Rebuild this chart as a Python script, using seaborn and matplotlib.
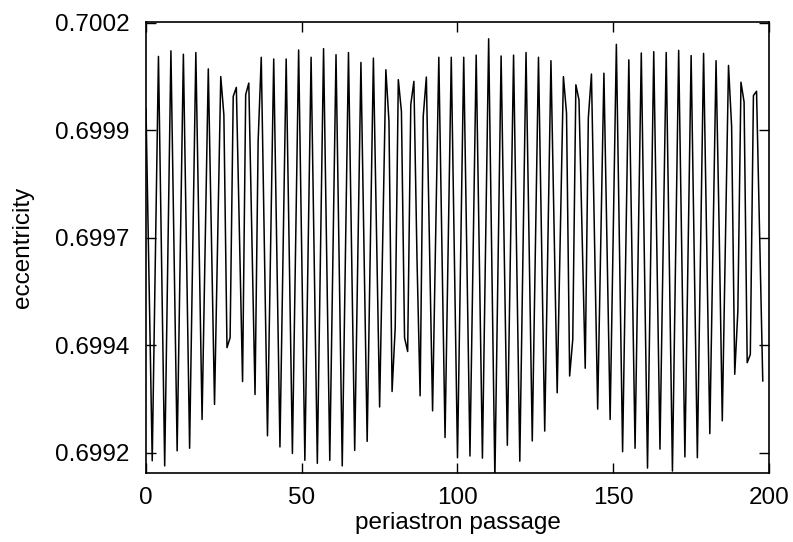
import numpy as np
import pandas as pd
import matplotlib
matplotlib.use("Agg")
import matplotlib.pyplot as plt
import seaborn as sns

# ---- data ----
ecc = [
    0.699950, 0.699540, 0.699132, 0.699602, 0.700072, 0.699596, 0.699120, 0.699603, 0.700085, 0.699620,
    0.699155, 0.699616, 0.700077, 0.699619, 0.699161, 0.699621, 0.700081, 0.699655, 0.699228, 0.699636,
    0.700043, 0.699653, 0.699263, 0.699644, 0.700025, 0.699936, 0.699395, 0.699418, 0.699979, 0.700000,
    0.699658, 0.699316, 0.699983, 0.700010, 0.699648, 0.699286, 0.699875, 0.700070, 0.699630, 0.699190,
    0.699628, 0.700066, 0.699615, 0.699164, 0.699615, 0.700066, 0.699608, 0.699149, 0.699618, 0.700087,
    0.699610, 0.699133, 0.699602, 0.700070, 0.699598, 0.699126, 0.699608, 0.700090, 0.699612, 0.699133,
    0.699605, 0.700076, 0.699598, 0.699120, 0.699600, 0.700081, 0.699619, 0.699156, 0.699607, 0.700058,
    0.699618, 0.699177, 0.699623, 0.700068, 0.699663, 0.699257, 0.699649, 0.700041, 0.699921, 0.699293,
    0.699441, 0.700018, 0.699944, 0.699418, 0.699386, 0.699960, 0.700014, 0.699600, 0.699283, 0.699933,
    0.700024, 0.699636, 0.699248, 0.699659, 0.700070, 0.699628, 0.699186, 0.699628, 0.700070, 0.699605,
    0.699139, 0.699605, 0.700070, 0.699607, 0.699143, 0.699609, 0.700075, 0.699607, 0.699138, 0.699626,
    0.700113, 0.699602, 0.699090, 0.699582, 0.700073, 0.699620, 0.699168, 0.699622, 0.700075, 0.699603,
    0.699131, 0.699606, 0.700081, 0.699630, 0.699178, 0.699624, 0.700070, 0.699636, 0.699201, 0.699632,
    0.700062, 0.699676, 0.699290, 0.699658, 0.700025, 0.699940, 0.699329, 0.699414, 0.700006, 0.699971,
    0.699659, 0.699347, 0.699929, 0.700031, 0.699642, 0.699252, 0.699643, 0.700033, 0.699630, 0.699228,
    0.699664, 0.700100, 0.699627, 0.699153, 0.699609, 0.700064, 0.699613, 0.699161, 0.699620, 0.700080,
    0.699598, 0.699115, 0.699600, 0.700083, 0.699621, 0.699159, 0.699620, 0.700081, 0.699595, 0.699108,
    0.699597, 0.700086, 0.699614, 0.699141, 0.699608, 0.700074, 0.699607, 0.699139, 0.699609, 0.700079,
    0.699637, 0.699195, 0.699629, 0.700062, 0.699670, 0.699225, 0.699638, 0.700051, 0.699909, 0.699333,
    0.699480, 0.700012, 0.699966, 0.699360, 0.699379, 0.699981, 0.699991, 0.699654, 0.699317,
]
passage = list(range(len(ecc)))

x_ticks = [0, 50, 100, 150, 200]
x_tick_labels = ["0", "50", "100", "150", "200"]
y_ticks = [0.69915, 0.69940, 0.69965, 0.69990, 0.70015]
y_tick_labels = ["0.6992", "0.6994", "0.6997", "0.6999", "0.7002"]
x_label = "periastron passage"
y_label = "eccentricity"

df = pd.DataFrame({"passage": passage, "eccentricity": ecc})

sns.set_theme(style="ticks")
plt.rcParams["font.family"] = ["Liberation Sans", "DejaVu Sans"]

fig = plt.figure(figsize=(7.93, 5.42), dpi=100)
ax = fig.add_axes([146 / 793, 1 - 473 / 542, (769 - 146) / 793, (473 - 22) / 542])

sns.lineplot(data=df, x="passage", y="eccentricity", ax=ax,
             color="black", linewidth=1.1, estimator=None, sort=False)

ax.set_xlim(0, 200)
ax.set_ylim(0.6991035, 0.700152)
ax.set_xticks(x_ticks)
ax.set_xticklabels(x_tick_labels)
ax.set_yticks(y_ticks)
ax.set_yticklabels(y_tick_labels)

ax.tick_params(axis="both", which="major", direction="in", length=7, width=1.0,
               top=True, right=True, labelsize=17.5, colors="black")
ax.tick_params(axis="x", pad=10)
ax.tick_params(axis="y", pad=12)
for s in ax.spines.values():
    s.set_linewidth(1.2)
    s.set_color("black")
    s.set_visible(True)

ax.set_xlabel(x_label, fontsize=17.5, labelpad=2, color="black")
ax.set_ylabel(y_label, fontsize=17.5, labelpad=15, color="black")
ax.grid(False)

fig.savefig("out.png", dpi=100, facecolor="white")
